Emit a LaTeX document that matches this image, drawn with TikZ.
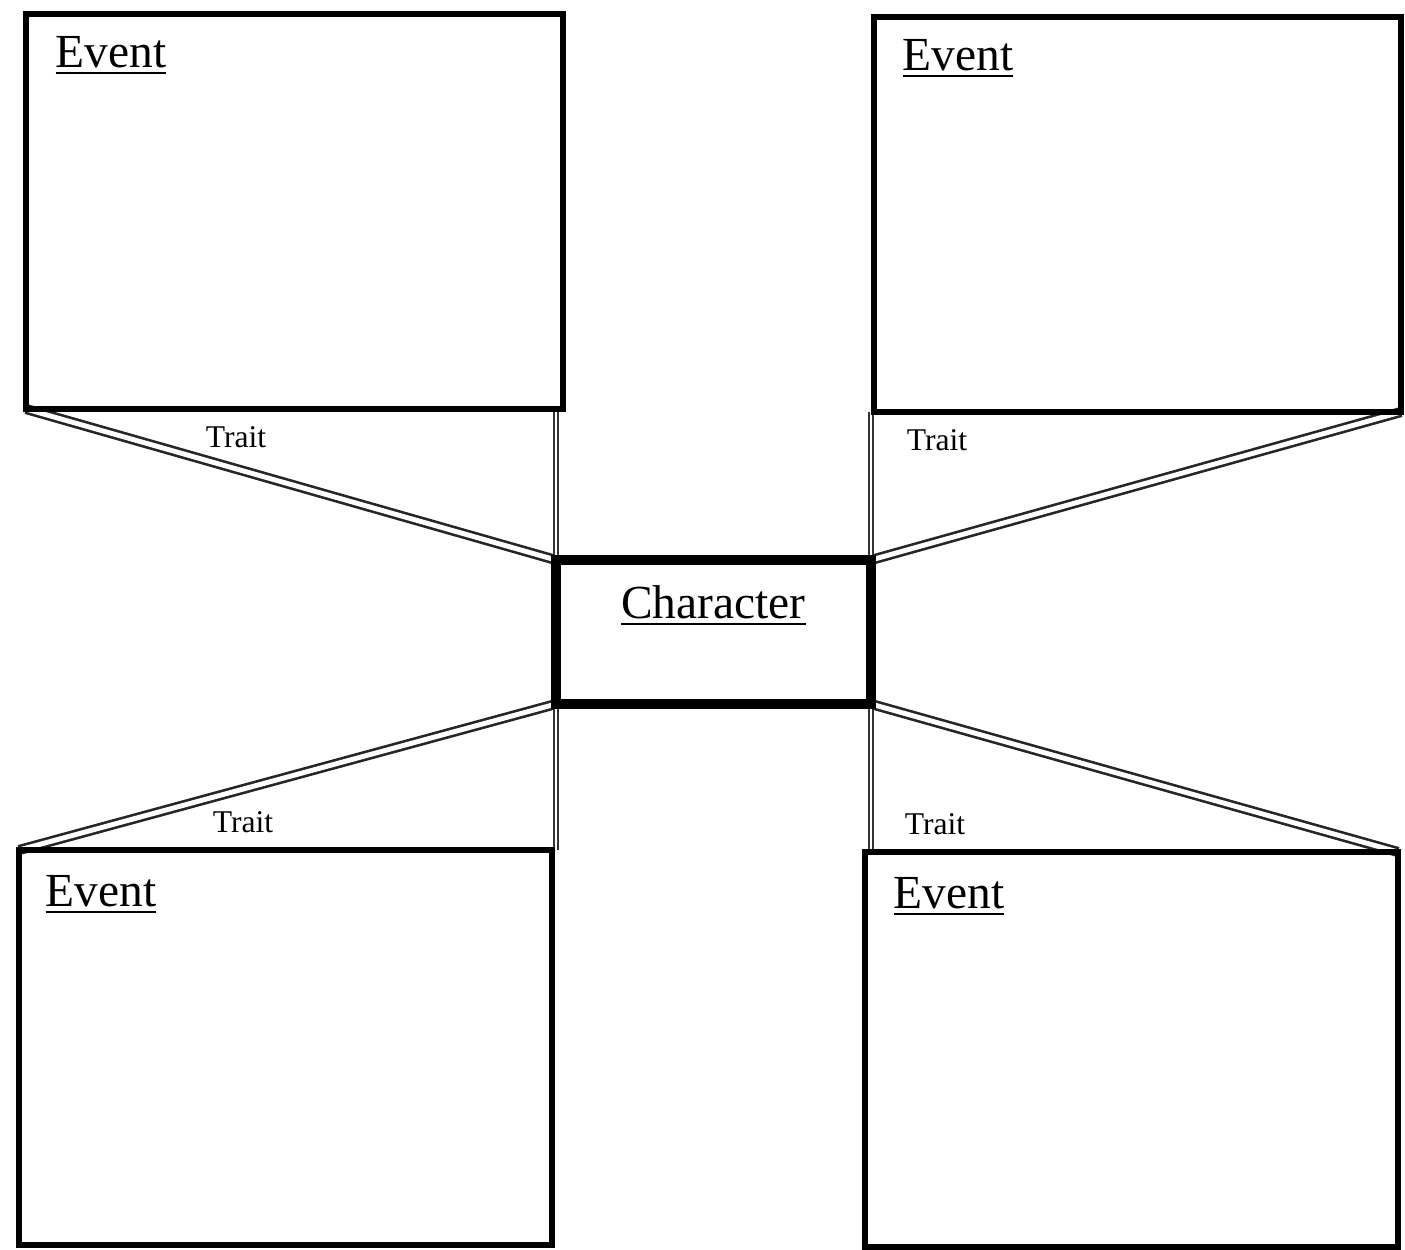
\documentclass[tikz,border=0pt]{standalone}
\usepackage{fontspec}
\setmainfont{Liberation Serif}
\usepackage{tikz}
\usetikzlibrary{positioning, backgrounds}
\tikzstyle{event} = [rectangle, draw=black, line width=1.5pt, inner sep=0pt, outer sep=0pt, minimum width=5.33cm, minimum height=3.95cm]
\tikzstyle{character} = [rectangle, draw=black, line width=3pt, inner sep=0pt, outer sep=0pt, minimum width=3.15cm, minimum height=1.44cm]
\tikzstyle{heading} = [font=\fontsize{13.5}{16}\selectfont, inner sep=0pt, anchor=north west]
\tikzstyle{trait} = [font=\fontsize{9}{11}\selectfont, inner sep=0pt]
\tikzstyle{link} = [draw=black!85, line width=0.75pt, double=white, double distance=1.4pt]
\tikzstyle{side} = [draw=black!80, line width=0.45pt, double=white, double distance=0.8pt]

\begin{document}
\begin{tikzpicture}
\useasboundingbox (0,0) rectangle (14.05,-12.49);
\node (evtl) [event, minimum width=5.37cm, anchor=north west] at (0.26,-0.14) {};
\node (evtr) [event, minimum width=5.27cm, anchor=north west] at (8.74,-0.17) {};
\node (evbl) [event, anchor=north west] at (0.19,-8.50) {};
\node (evbr) [event, anchor=north west] at (8.65,-8.52) {};
\node (char) [character] at (7.135,-6.32) {};

\node (evtltext) [heading, below right=0.22cm and 0.29cm of evtl.north west] {\underline{Event}};
\node (evtrtext) [heading, below right=0.22cm and 0.28cm of evtr.north west] {\underline{Event}};
\node (evbltext) [heading, below right=0.25cm and 0.26cm of evbl.north west] {\underline{Event}};
\node (evbrtext) [heading, below right=0.25cm and 0.28cm of evbr.north west] {\underline{Event}};
\node (chartext) [heading, anchor=north, below=0.25cm of char.north] {\underline{Character}};

\node (traittl) [trait] at (2.36,-4.37) {Trait};
\node (traittr) [trait] at (9.37,-4.40) {Trait};
\node (traitbl) [trait] at (2.43,-8.22) {Trait};
\node (traitbr) [trait] at (9.35,-8.24) {Trait};

\begin{scope}[on background layer]
\draw [link] (evtl.south west) -- (char.north west);
\draw [side] (char.north west) -- (char.north west |- evtl.south);
\draw [link] (evtr.south east) -- (char.north east);
\draw [side] (char.north east) -- (char.north east |- evtr.south);
\draw [link] (char.south west) -- (evbl.north west);
\draw [side] (char.south west) -- (char.south west |- evbl.north);
\draw [link] (char.south east) -- (evbr.north east);
\draw [side] (char.south east) -- (char.south east |- evbr.north);
\end{scope}
\end{tikzpicture}
\end{document}
